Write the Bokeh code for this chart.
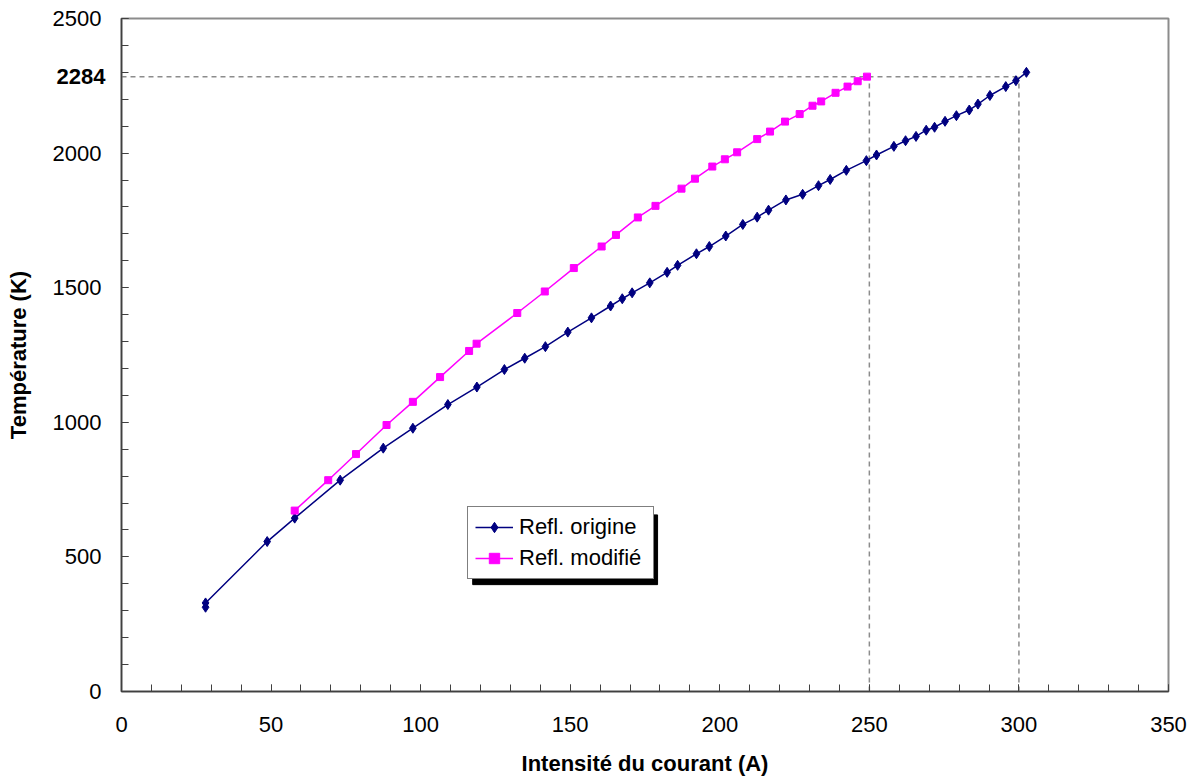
from bokeh.plotting import figure
from bokeh.models import (Range1d, SingleIntervalTicker, FixedTicker, LinearAxis,
                          Legend, LegendItem, BoxAnnotation)
from bokeh.embed import file_html
from bokeh.resources import INLINE

# ---- data ----
origine_I = [28.1, 28.1, 48.7, 57.9, 73.1, 87.5, 97.4, 109.1, 118.8, 128.0,
             134.8, 141.7, 149.2, 157.1, 163.5, 167.4, 170.7, 176.6, 182.4, 185.9,
             192.2, 196.5, 202.0, 207.7, 212.5, 216.3, 222.1, 227.7, 233.0, 236.9,
             242.3, 249.0, 252.4, 258.2, 262.1, 265.6, 269.0, 271.8, 275.3, 279.1,
             283.4, 286.3, 290.3, 295.6, 299.0, 302.5]
origine_T = [313, 329, 557, 644, 785, 904, 978, 1066, 1131, 1196,
             1238, 1281, 1335, 1388, 1432, 1459, 1481, 1518, 1557, 1583,
             1626, 1653, 1692, 1735, 1762, 1788, 1826, 1847, 1879, 1902,
             1936, 1972, 1993, 2025, 2046, 2062, 2085, 2096, 2118, 2139,
             2160, 2182, 2214, 2247, 2269, 2300]

modifie_I = [57.9, 69.1, 78.4, 88.6, 97.4, 106.5, 116.2, 118.7, 132.3, 141.5,
             151.2, 160.5, 165.3, 172.6, 178.5, 187.2, 191.7, 197.5, 201.7, 205.8,
             212.5, 216.8, 221.8, 226.7, 231.0, 233.9, 238.7, 242.7, 246.1, 249.2]
modifie_T = [672, 785, 882, 990, 1076, 1168, 1265, 1292, 1406, 1486,
             1573, 1653, 1696, 1761, 1804, 1868, 1905, 1950, 1977, 2003,
             2052, 2080, 2117, 2145, 2176, 2192, 2224, 2247, 2267, 2284]

ref_T = 2284
ref_I = [250, 300]

series_names = ["Refl. origine", "Refl. modifié"]
x_title = "Intensité du courant (A)"
y_title = "Température (K)"

FONT = "Liberation Sans"

p = figure(width=1190, height=778, output_backend="svg", toolbar_location=None,
           x_range=Range1d(0, 350), y_range=Range1d(0, 2500),
           min_border_left=121, min_border_top=18, min_border_right=22,
           min_border_bottom=86)
p.xgrid.visible = False
p.ygrid.visible = False
p.outline_line_color = "#8c8c8c"
p.outline_line_width = 2
p.background_fill_color = "white"
p.border_fill_color = "white"

# axes
p.xaxis.ticker = SingleIntervalTicker(interval=50, num_minor_ticks=5)
p.yaxis.ticker = SingleIntervalTicker(interval=500, num_minor_ticks=5)
for ax in (p.xaxis[0], p.yaxis[0]):
    ax.axis_line_color = "#404040"
    ax.axis_line_width = 1.5
    ax.major_tick_line_color = "#404040"
    ax.minor_tick_line_color = "#404040"
    ax.major_tick_in = 7
    ax.major_tick_out = 0
    ax.minor_tick_in = 7
    ax.minor_tick_out = 0
    ax.major_label_text_font = FONT
    ax.major_label_text_font_size = "22px"
    ax.major_label_text_color = "black"
    ax.axis_label_text_font = FONT
    ax.axis_label_text_font_size = "22px"
    ax.axis_label_text_font_style = "bold"
    ax.axis_label_text_color = "black"
p.xaxis.axis_label = x_title
p.yaxis.axis_label = y_title
p.xaxis.major_label_standoff = 25
p.yaxis.major_label_standoff = 20
p.xaxis.axis_label_standoff = 16
p.yaxis.axis_label_standoff = 19

# extra left axis carrying only the bold 2284 label (pulled back over the main labels)
ref_axis = LinearAxis(ticker=FixedTicker(ticks=[ref_T]),
                      axis_line_color=None, major_tick_line_color=None,
                      minor_tick_line_color=None,
                      major_label_text_font=FONT,
                      major_label_text_font_size="22px",
                      major_label_text_font_style="bold",
                      major_label_text_color="black",
                      major_label_standoff=-109)
p.add_layout(ref_axis, "left")

# reference dashed lines
p.line([0, ref_I[1]], [ref_T, ref_T], line_color="#8c8c8c", line_width=1.5,
       line_dash="5 4")
for xi in ref_I:
    p.line([xi, xi], [0, ref_T], line_color="#8c8c8c", line_width=1.5,
           line_dash="5 4")

# series
r1l = p.line(origine_I, origine_T, line_color="#000080", line_width=1.5)
r1m = p.scatter(origine_I, origine_T, marker="diamond", size=10,
                fill_color="#000080", line_color="#000080")
r2l = p.line(modifie_I, modifie_T, line_color="#ff00ff", line_width=1.5)
r2m = p.scatter(modifie_I, modifie_T, marker="square", size=7,
                fill_color="#ff00ff", line_color="#ff00ff")

# legend shadow
p.add_layout(BoxAnnotation(left=117.4, right=179.2, top=656, bottom=397,
                           fill_color="black", fill_alpha=1.0,
                           line_color="black", line_alpha=1.0))

legend = Legend(items=[LegendItem(label=series_names[0], renderers=[r1l, r1m]),
                       LegendItem(label=series_names[1], renderers=[r2l, r2m])],
                location=(346, 112), orientation="vertical",
                label_text_font=FONT, label_text_font_size="22px",
                label_text_color="black",
                border_line_color="black", border_line_width=1.5,
                background_fill_color="white", background_fill_alpha=1.0,
                padding=7, spacing=5, glyph_width=38, glyph_height=26,
                label_height=26, label_width=127, label_standoff=6,
                margin=0)
p.add_layout(legend)

open("out.html", "w").write(file_html(p, INLINE))
